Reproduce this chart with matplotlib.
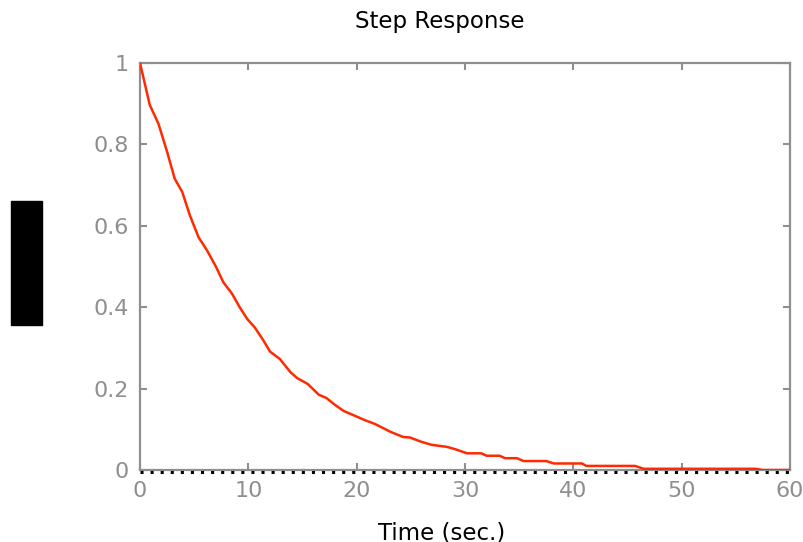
import matplotlib
matplotlib.use("Agg")
import matplotlib.pyplot as plt
from matplotlib.patches import Rectangle

# step response
t = [0, 0.9, 1.7, 2.5, 3.2, 3.9, 4.6, 5.4, 6.2, 7.0, 7.7, 8.5, 9.2, 9.9, 10.6,
     11.4, 12.0, 12.9, 13.9, 14.5, 15.5, 16.5, 17.2, 18.0, 18.8, 19.5, 20.8,
     21.7, 23.1, 24.3, 24.9, 26.0, 26.9, 27.7, 28.3, 29.1, 30.2, 31.5, 32.0,
     33.2, 33.7, 34.8, 35.4, 37.5, 38.2, 40.8, 41.2, 45.7, 46.5, 56.8, 57.5, 60]
y = [1.0, 0.897, 0.851, 0.782, 0.716, 0.683, 0.626, 0.572, 0.539, 0.50, 0.461,
     0.433, 0.40, 0.371, 0.350, 0.318, 0.291, 0.273, 0.240, 0.226, 0.211, 0.185,
     0.177, 0.160, 0.145, 0.137, 0.122, 0.113, 0.094, 0.081, 0.080, 0.069, 0.062,
     0.059, 0.057, 0.051, 0.041, 0.041, 0.035, 0.035, 0.029, 0.029, 0.022,
     0.022, 0.016, 0.016, 0.010, 0.010, 0.003, 0.003, 0.0, 0.0]
xticks = [0, 10, 20, 30, 40, 50, 60]
yticks = [0, 0.2, 0.4, 0.6, 0.8, 1]
ytick_labels = ["0", "0.2", "0.4", "0.6", "0.8", "1"]

gray = "#8f8f8f"
plt.rcParams["font.family"] = ["DejaVu Sans"]

fig = plt.figure(figsize=(8.04, 5.42), dpi=100)
ax = fig.add_axes([140 / 804, 1 - 470 / 542, 650 / 804, 407 / 542])

# dotted zero line sits just under the bottom spine
ax.plot([0, 60], [-0.004, -0.004], color="black", lw=2.2,
        linestyle=(0, (1, 2.3)), dash_capstyle="butt", zorder=2.6,
        clip_on=False)
ax.plot(t, y, color="#ff2a00", lw=1.8, zorder=3)

ax.set_xlim(0, 60)
ax.set_ylim(0, 1)
ax.set_xticks(xticks)
ax.set_yticks(yticks)
ax.set_yticklabels(ytick_labels)
for s in ax.spines.values():
    s.set_color(gray)
    s.set_linewidth(1.6)
ax.tick_params(direction="in", length=5, width=1.5, color=gray,
               labelcolor=gray, labelsize=16, top=True, right=True, pad=8)

fig.text(440 / 804, 1 - 28 / 542, "Step Response", ha="center",
         va="baseline", fontsize=16.5, color="black")
fig.text(442 / 804, 1 - 539 / 542, "Time (sec.)", ha="center",
         va="baseline", fontsize=16.5, color="black")
fig.add_artist(Rectangle((11 / 804, 1 - 325 / 542), 31 / 804, 124 / 542,
                         transform=fig.transFigure, color="black"))

fig.savefig("out.png", dpi=100)
